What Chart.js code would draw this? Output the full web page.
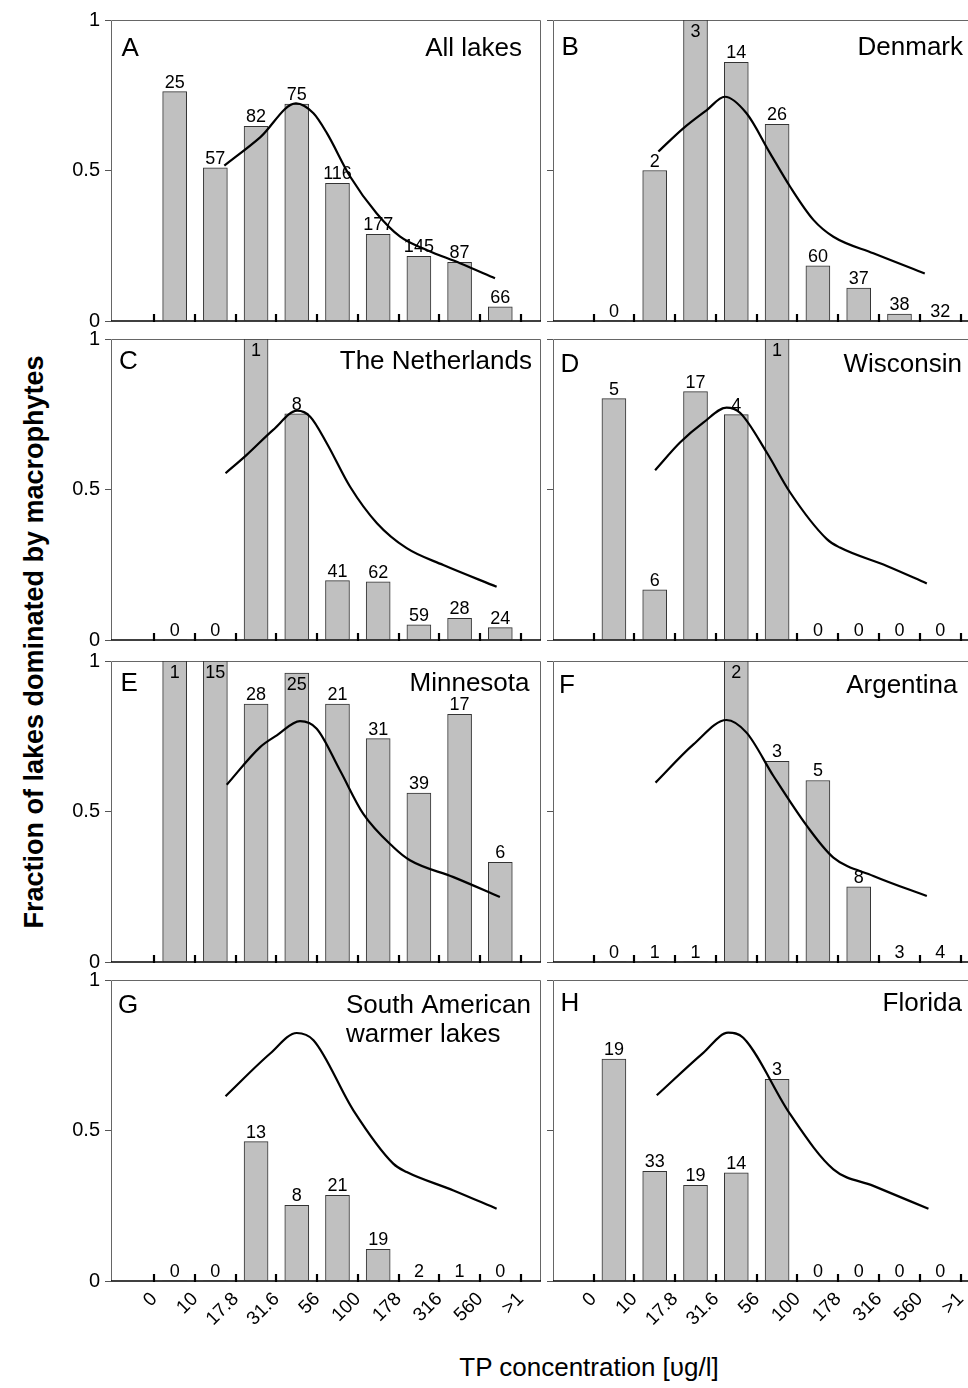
<!DOCTYPE html>
<html><head><meta charset="utf-8">
<script src="https://cdn.jsdelivr.net/npm/chart.js@4.4.1/dist/chart.umd.min.js"></script>
<style>
html,body{margin:0;padding:0;background:#fff;width:968px;height:1388px;overflow:hidden;position:relative;font-family:"Liberation Sans",Arial,sans-serif;color:#000;}
canvas{position:absolute;}
#ytitle{position:absolute;left:-316px;top:627px;width:700px;height:30px;line-height:30px;text-align:center;font-weight:bold;font-size:27px;transform:rotate(-90deg);transform-origin:50% 50%;white-space:nowrap;}
#xtitle{position:absolute;left:389px;top:1352px;width:400px;height:30px;line-height:30px;text-align:center;font-size:26px;white-space:nowrap;}
</style></head><body>
<div id="ytitle">Fraction of lakes dominated by macrophytes</div>
<div id="xtitle">TP concentration [υg/l]</div>
<script>
// ---------- DATA ----------
const tickLabels = ['0','10','17.8','31.6','56','100','178','316','560','>1'];
const tickValues = [0,1,2,3,4,5,6,7,8,9];
const binCenters = [0.5,1.5,2.5,3.5,4.5,5.5,6.5,7.5,8.5];

const countsA = [25,57,82,75,116,177,145,87,66];
const fracA   = [0.762,0.509,0.647,0.721,0.457,0.288,0.215,0.195,0.047];
const curveXA = [1.72,2.60,3.48,3.91,4.24,4.81,5.46,6.04,6.69,7.51,8.37];
const curveYA = [0.516,0.610,0.723,0.690,0.624,0.480,0.358,0.280,0.236,0.192,0.142];

const countsB = [0,2,3,14,26,60,37,38,32];
const fracB   = [0,0.500,1,0.859,0.653,0.183,0.109,0.023,0];
const curveXB = [1.59,2.20,2.77,3.22,3.75,4.33,4.82,5.39,5.88,6.86,8.12];
const curveYB = [0.563,0.640,0.700,0.745,0.690,0.557,0.446,0.336,0.280,0.225,0.158];

const countsC = [0,0,1,8,41,62,59,28,24];
const fracC   = [0,0,1,0.751,0.197,0.193,0.050,0.072,0.041];
const curveXC = [1.75,2.27,2.92,3.51,3.83,4.24,4.81,5.47,6.20,7.10,8.41];
const curveYC = [0.554,0.615,0.698,0.762,0.742,0.653,0.509,0.388,0.305,0.249,0.177];

const countsD = [5,6,17,4,1,0,0,0,0];
const fracD   = [0.802,0.167,0.825,0.749,1,0,0,0,0];
const curveXD = [1.51,2.12,2.69,3.26,3.59,4.25,4.82,5.72,6.04,7.19,8.17];
const curveYD = [0.564,0.656,0.722,0.772,0.755,0.622,0.490,0.335,0.307,0.246,0.188];

const countsE = [1,15,28,25,21,31,39,17,6];
const fracE   = [1,1,0.857,0.960,0.857,0.742,0.561,0.823,0.331];
const curveXE = [1.78,2.60,3.01,3.58,3.99,4.56,5.13,5.87,6.28,7.35,8.49];
const curveYE = [0.589,0.714,0.753,0.800,0.775,0.637,0.493,0.382,0.338,0.282,0.216];

const countsF = [0,1,1,2,3,5,8,3,4];
const fracF   = [0,0,0,1,0.667,0.603,0.250,0,0];
const curveXF = [1.52,2.45,3.26,3.75,4.41,5.23,5.88,6.86,8.17];
const curveYF = [0.596,0.723,0.804,0.762,0.618,0.452,0.347,0.286,0.219];

const countsG = [0,0,13,8,21,19,2,1,0];
const fracG   = [0,0,0.463,0.251,0.285,0.105,0,0,0];
const curveXG = [1.75,2.84,3.50,3.91,4.89,5.87,6.20,7.35,8.41];
const curveYG = [0.614,0.755,0.824,0.800,0.567,0.390,0.362,0.301,0.240];

const countsH = [19,33,19,14,3,0,0,0,0];
const fracH   = [0.737,0.364,0.318,0.359,0.670,0,0,0,0];
const curveXH = [1.55,2.69,3.30,3.67,4.82,5.88,6.86,8.21];
const curveYH = [0.617,0.758,0.825,0.808,0.554,0.371,0.316,0.240];

const panelLetters = ['A','B','C','D','E','F','G','H'];
const panelTitles  = [['All lakes'],['Denmark'],['The Netherlands'],['Wisconsin'],['Minnesota'],['Argentina'],['South American','warmer lakes'],['Florida']];

// ---------- LAYOUT / STYLE ----------
const FONT = '"Liberation Sans", Arial, sans-serif';
const frameL = [111, 553], frameW = [430, 428];
const padL = [61, 10], padR = 6, padT = 20;
const rowTop = [20, 339, 661, 980], frameH = 301;
const xMin = [-1.064, -0.993], xMax = [9.50, 9.498];
const titleRightOff = [19, 18, 9, 19, 11.5, 23.5, 10, 19];
const titleBase = [36, 35, 30, 33, 30, 32, 33, 31];
const letterOff = [10.5, 8.5, 8, 7.5, 9.5, 6, 7, 7.5];

const panelData = [
  [countsA, fracA, curveXA, curveYA],
  [countsB, fracB, curveXB, curveYB],
  [countsC, fracC, curveXC, curveYC],
  [countsD, fracD, curveXD, curveYD],
  [countsE, fracE, curveXE, curveYE],
  [countsF, fracF, curveXF, curveYF],
  [countsG, fracG, curveXG, curveYG],
  [countsH, fracH, curveXH, curveYH]
];

const panelDeco = {
  id: 'panelDeco',
  beforeDatasetsDraw(chart, args, o) {
    const {ctx, chartArea: a} = chart;
    ctx.save();
    ctx.strokeStyle = '#666'; ctx.lineWidth = 1;
    ctx.beginPath();
    ctx.moveTo(a.left + 0.5, a.bottom); ctx.lineTo(a.left + 0.5, a.top + 0.5);
    ctx.lineTo(a.right - 0.5, a.top + 0.5); ctx.lineTo(a.right - 0.5, a.bottom);
    ctx.stroke();
    ctx.restore();
  },
  afterDatasetDraw(chart, args, o) {
    if (args.meta.type !== 'bar') return;
    const {ctx, chartArea: a} = chart;
    ctx.save();
    ctx.font = '18px ' + FONT;
    ctx.fillStyle = '#000';
    ctx.textAlign = 'center';
    ctx.textBaseline = 'alphabetic';
    args.meta.data.forEach((el, i) => {
      const txt = String(o.counts[i]);
      let top = Math.max(el.y, a.top);
      let yb = top - 4;
      if (yb - 13 < a.top + 1) yb = top + 17;
      ctx.fillText(txt, el.x, yb);
    });
    ctx.restore();
  },
  afterDraw(chart, args, o) {
    const {ctx, chartArea: a, scales: {x}} = chart;
    ctx.save();
    ctx.strokeStyle = '#000'; ctx.lineWidth = 1.5;
    ctx.beginPath(); ctx.moveTo(a.left, a.bottom); ctx.lineTo(a.right, a.bottom); ctx.stroke();
    ctx.lineWidth = 2.2;
    tickValues.forEach(v => {
      const px = Math.round(x.getPixelForValue(v));
      ctx.beginPath(); ctx.moveTo(px, a.bottom + 1); ctx.lineTo(px, a.bottom - 7); ctx.stroke();
    });
    ctx.fillStyle = '#000';
    ctx.font = '26px ' + FONT;
    ctx.textBaseline = 'alphabetic';
    ctx.textAlign = 'left';
    ctx.fillText(o.letter, a.left + o.letterOff, a.top + o.base);
    if (o.title.length === 1) {
      ctx.textAlign = 'right';
      ctx.fillText(o.title[0], a.right - o.rightOff, a.top + o.base);
    } else {
      const w = ctx.measureText(o.title[0]).width;
      const lx = a.right - o.rightOff - w;
      ctx.textAlign = 'left';
      o.title.forEach((t, k) => ctx.fillText(t, lx, a.top + o.base + k * 29));
    }
    ctx.restore();
  }
};

panelData.forEach((pd, idx) => {
  const col = idx % 2, row = Math.floor(idx / 2);
  const isBottom = row === 3;
  const padB = isBottom ? 75 : 20;
  const cv = document.createElement('canvas');
  const W = padL[col] + frameW[col] + padR;
  const H = padT + frameH + padB;
  cv.width = W; cv.height = H;
  cv.style.left = (frameL[col] - padL[col]) + 'px';
  cv.style.top = (rowTop[row] - padT) + 'px';
  cv.style.width = W + 'px'; cv.style.height = H + 'px';
  document.body.appendChild(cv);
  const [counts, frac, cx, cy] = pd;
  new Chart(cv, {
    data: {
      datasets: [
        {
          type: 'line', order: 0,
          data: cx.map((v, i) => ({x: v, y: cy[i]})),
          borderColor: '#000', borderWidth: 2.2, pointRadius: 0,
          cubicInterpolationMode: 'monotone', fill: false
        },
        {
          type: 'bar', order: 1,
          data: binCenters.map((c, i) => ({x: c, y: frac[i]})),
          backgroundColor: '#c0c0c0',
          borderColor: '#333',
          borderWidth: c => (c.raw && c.raw.y > 0) ? 1 : 0,
          borderSkipped: 'start',
          barThickness: 24
        }
      ]
    },
    options: {
      responsive: false, animation: false, devicePixelRatio: 1,
      layout: {padding: {top: padT, right: padR, left: 0, bottom: 0}},
      plugins: {
        legend: {display: false}, tooltip: {enabled: false}, title: {display: false},
        panelDeco: {
          counts: counts, letter: panelLetters[idx], title: panelTitles[idx],
          rightOff: titleRightOff[idx], base: titleBase[idx], letterOff: letterOff[idx]
        }
      },
      scales: {
        x: {
          type: 'linear', min: xMin[col], max: xMax[col], offset: false,
          afterBuildTicks: s => { s.ticks = tickValues.map(v => ({value: v})); },
          afterFit: s => { s.height = padB; },
          grid: {display: false, drawTicks: false, offset: false},
          border: {display: false},
          ticks: {
            display: isBottom, autoSkip: false, minRotation: 45, maxRotation: 45, padding: 7,
            color: '#000', font: {family: FONT, size: 19},
            callback: v => tickLabels[Math.round(v)]
          }
        },
        y: {
          type: 'linear', min: 0, max: 1,
          afterFit: s => { s.width = padL[col]; },
          grid: {display: true, drawOnChartArea: false, drawTicks: true, tickLength: 6, color: '#555', lineWidth: 1},
          border: {display: false},
          ticks: {
            display: col === 0, stepSize: 0.5, padding: 5,
            color: '#000', font: {family: FONT, size: 20},
            callback: v => String(v)
          }
        }
      }
    },
    plugins: [panelDeco]
  });
});
</script>
</body></html>
